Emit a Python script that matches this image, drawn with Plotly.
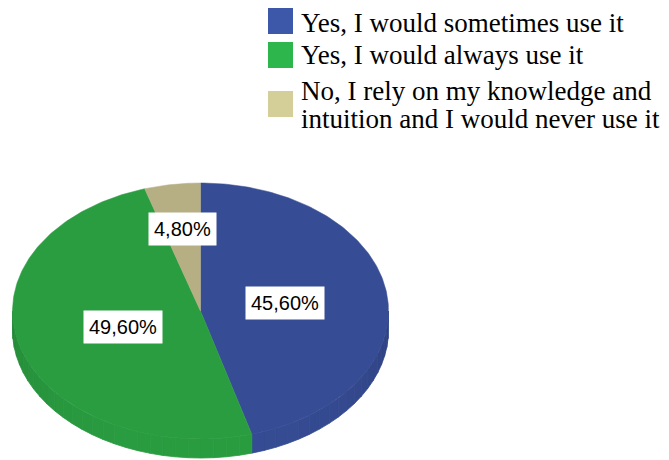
import numpy as np
import plotly.graph_objects as go

# Survey answers and their shares (percent)
labels = [
    "Yes, I would sometimes use it",
    "Yes, I would always use it",
    "No, I rely on my knowledge and\nintuition and I would never use it",
]
shares = [45.6, 49.6, 4.8]

top_colors = ["#364C94", "#2A9D41", "#B6AF84"]
legend_colors = ["#3D57A9", "#2CB64B", "#D4CE98"]
label_radius = [0.455, 0.43, 0.65]

SERIF = "Liberation Serif, Times New Roman, serif"
SANS = "Liberation Sans, Arial, sans-serif"

W, H = 669, 460
# Elliptical pie (tilted disc) geometry in pixel space
CX, CY, RX, RY, DEPTH = 200.5, 311.0, 188.0, 128.0, 19.0


def pt(theta_deg, dy=0.0, f=1.0):
    t = np.radians(theta_deg)
    return CX + f * RX * np.sin(t), CY - f * RY * np.cos(t) + dy


def arc(a, b, dy=0.0):
    th = np.linspace(a, b, max(int(abs(b - a)) + 2, 3))
    return pt(th, dy)


def shade(hex_col, k):
    h = hex_col.lstrip("#")
    r, g, b = (int(h[i:i + 2], 16) for i in (0, 2, 4))
    return "rgb({},{},{})".format(int(r * k), int(g * k), int(b * k))


fig = go.Figure()

total = sum(shares)
bounds = []
start = 0.0
for v in shares:
    end = start + 360.0 * v / total
    bounds.append((start, end))
    start = end

# Visible rim (front half of the disc, 90..270 degrees clockwise from top),
# drawn in thin bands that darken towards the sides
for (a, b), col in zip(bounds, top_colors):
    lo, hi = max(a, 90.0), min(b, 270.0)
    if lo >= hi:
        continue
    edges = np.linspace(lo, hi, max(int((hi - lo) / 4.0) + 2, 2))
    for s0, s1 in zip(edges[:-1], edges[1:]):
        mid = np.radians((s0 + s1) / 2.0)
        k = 0.86 + 0.14 * abs(np.cos(mid)) ** 0.7
        c = shade(col, k)
        x1, y1 = arc(s0, s1)
        x2, y2 = arc(s1, s0, DEPTH)
        xs = np.concatenate([x1, x2, x1[:1]])
        ys = np.concatenate([y1, y2, y1[:1]])
        fig.add_trace(go.Scatter(x=xs, y=ys, mode="lines", fill="toself",
                                 fillcolor=c, line=dict(color=c, width=0.8),
                                 hoverinfo="skip", showlegend=False))

# Top face slices
for (a, b), col in zip(bounds, top_colors):
    xa, ya = arc(a, b)
    xs = np.concatenate([[CX], xa, [CX]])
    ys = np.concatenate([[CY], ya, [CY]])
    fig.add_trace(go.Scatter(x=xs, y=ys, mode="lines", fill="toself",
                             fillcolor=col, line=dict(color=col, width=0.5),
                             hoverinfo="skip", showlegend=False))

# Percentage labels in white boxes
annotations = []
for (a, b), v, f in zip(bounds, shares, label_radius):
    mx, my = pt((a + b) / 2.0, f=f)
    annotations.append(dict(
        x=float(mx), y=float(my), xref="x", yref="y", showarrow=False,
        text=f"{v:.2f}%".replace(".", ","),
        font=dict(family=SANS, size=20, color="black"),
        bgcolor="white", borderpad=5, xanchor="center", yanchor="middle"))

# Legend: swatches and serif labels
shapes = []
sw_top = [8, 42, 91]
line_mid = [[23], [55], [91, 119]]
for col, lab, top, mids in zip(legend_colors, labels, sw_top, line_mid):
    shapes.append(dict(type="rect", xref="x", yref="y", x0=268, x1=293,
                       y0=top, y1=top + 26, fillcolor=col, line=dict(width=0)))
    for txt, ym in zip(lab.split("\n"), mids):
        annotations.append(dict(
            x=299, y=ym, xref="x", yref="y", showarrow=False, text=txt,
            font=dict(family=SERIF, size=27, color="black"),
            xanchor="left", yanchor="middle"))

fig.update_layout(
    width=W, height=H, margin=dict(l=0, r=0, t=0, b=0),
    paper_bgcolor="white", plot_bgcolor="white",
    font=dict(family=SERIF),
    xaxis=dict(range=[0, W], visible=False, fixedrange=True),
    yaxis=dict(range=[H, 0], visible=False, fixedrange=True),
    annotations=annotations, shapes=shapes, showlegend=False,
)

fig.write_html("out.html")
